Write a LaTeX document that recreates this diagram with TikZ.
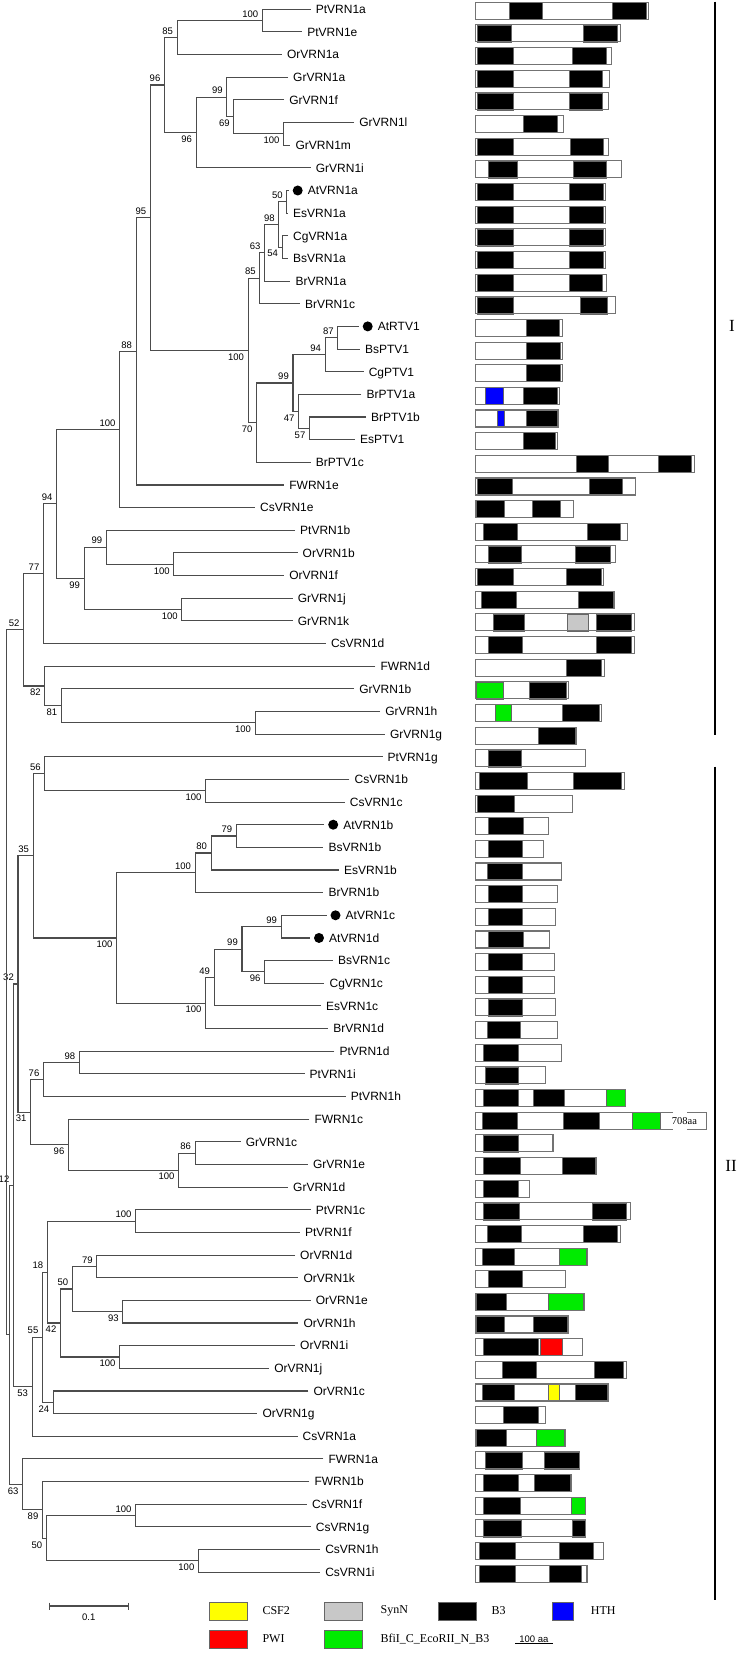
\documentclass[tikz,border=0pt]{standalone}
\usepackage{fontspec}
\setmainfont{Liberation Serif}
\setsansfont{Liberation Sans}
\usetikzlibrary{calc}

\definecolor{B3}{RGB}{0,0,0}
\definecolor{HTH}{RGB}{0,0,255}
\definecolor{PWI}{RGB}{255,0,0}
\definecolor{CSF2}{RGB}{255,255,0}
\definecolor{SynN}{RGB}{200,200,200}
\definecolor{BfiI}{RGB}{0,235,0}

% leaf row -> vertical position
\newcommand\ly[1]{(9.3+22.65*(#1-1))}

% internal node: name, x, upper child, lower child, bootstrap, a/b
\newcommand\clade[6]{%
  \path let \p1=($(#3)!.5!(#4)$) in coordinate (#1) at (#2pt,\y1);
  \draw[branch] (#3) -| (#1) |- (#4);
  \node[boot#6] at (#1) {#5};}

% domains only: row, list of start/end/colour
\newcommand\doms[2]{%
  \foreach \a/\b/\c in {#2}
    \filldraw[dom, fill=\c] (\a,{\ly{#1}-7}) rectangle (\b,{\ly{#1}+10});}
% domain map: row, length (aa), list of start/end/colour
\newcommand\prot[3]{%
  \doms{#1}{#3}
  \draw[pbox] (0,{\ly{#1}-7}) rectangle (#2,{\ly{#1}+10});}

\begin{document}
\begin{tikzpicture}[x=1pt, y=-1pt,
    branch/.style={draw=black!70, line width=1.1pt},
    taxon/.style={anchor=base west, inner sep=0pt, font=\sffamily\fontsize{12}{12}\selectfont},
    boot/.style={inner sep=1pt, font=\sffamily\fontsize{9.5}{9.5}\selectfont},
    boota/.style={boot, anchor=south east, xshift=-3pt, yshift=2pt},
    bootb/.style={boot, anchor=north east, xshift=-3pt, yshift=-2pt},
    atdot/.style={circle, fill=black, inner sep=0pt, minimum size=10pt},
    pbox/.style={draw=black!55, line width=1.1pt},
    dom/.style={draw=black!60, line width=0.5pt},
    key/.style={draw=black!60, line width=0.8pt, minimum width=37.8pt, minimum height=18pt, inner sep=0pt},
    keytext/.style={anchor=west, inner sep=0pt, font=\fontsize{12}{12}\selectfont},
    cladebar/.style={line width=2pt}
]
\useasboundingbox (0,0) rectangle (741,1653);

% leaves
\foreach \i/\nm/\lx in {1/PtVRN1a/315.7, 2/PtVRN1e/307.2, 3/OrVRN1a/286.9, 4/GrVRN1a/293,
    5/GrVRN1f/289.2, 6/GrVRN1l/359.2, 7/GrVRN1m/295.4, 8/GrVRN1i/315.7, 10/EsVRN1a/293,
    11/CgVRN1a/293, 12/BsVRN1a/293, 13/BrVRN1a/295.4, 14/BrVRN1c/304.8, 16/BsPTV1/364.8,
    17/CgPTV1/368.6, 18/BrPTV1a/366.3, 19/BrPTV1b/371, 20/EsPTV1/360, 21/BrPTV1c/315.7,
    22/FWRN1e/289.2, 23/CsVRN1e/260, 24/PtVRN1b/300, 25/OrVRN1b/302.5, 26/OrVRN1f/289.2,
    27/GrVRN1j/297.7, 28/GrVRN1k/297.7, 29/CsVRN1d/330.8, 30/FWRN1d/380.4, 31/GrVRN1b/359.2,
    32/GrVRN1h/385.2, 33/GrVRN1g/389.9, 34/PtVRN1g/387.5, 35/CsVRN1b/354.4, 36/CsVRN1c/349.7,
    38/BsVRN1b/328.4, 39/EsVRN1b/344, 40/BrVRN1b/328.4, 43/BsVRN1c/337.9, 44/CgVRN1c/329.4,
    45/EsVRN1c/326, 46/BrVRN1d/333.2, 47/PtVRN1d/339.3, 48/PtVRN1i/309.5, 49/PtVRN1h/350.7,
    50/FWRN1c/314.3, 51/GrVRN1c/245.7, 52/GrVRN1e/312.9, 53/GrVRN1d/293, 54/PtVRN1c/315.7,
    55/PtVRN1f/304.8, 56/OrVRN1d/300, 57/OrVRN1k/303.4, 58/OrVRN1e/315.7, 59/OrVRN1h/303.4,
    60/OrVRN1i/300, 61/OrVRN1j/274.1, 62/OrVRN1c/313.3, 63/OrVRN1g/262.3, 64/CsVRN1a/302.5,
    65/FWRN1a/328.4, 66/FWRN1b/314.3, 67/CsVRN1f/311.9, 68/CsVRN1g/315.7, 69/CsVRN1h/325.1,
    70/CsVRN1i/325.1}{
  \coordinate (L\i) at ({\lx-5},{\ly{\i}});
  \node[taxon] (t\i) at (\lx,{\ly{\i}+4.3}) {\nm};
}
% Arabidopsis genes, marked with a dot
\foreach \i/\nm/\dx in {9/AtVRN1a/297.7, 15/AtRTV1/367.7, 37/AtVRN1b/333.2,
    41/AtVRN1c/335.5, 42/AtVRN1d/319}{
  \coordinate (L\i) at ({\dx-9},{\ly{\i}});
  \node[atdot] (d\i) at (\dx,{\ly{\i}}) {};
  \node[taxon] (t\i) at ({\dx+10},{\ly{\i}+4.3}) {\nm};
}

% clade I
\clade{n100a}{262.3}{L1}{L2}{100}{a}
\clade{n85a}{177.2}{n100a}{L3}{85}{a}
\clade{n100b}{283.6}{L6}{L7}{100}{b}
\clade{n69}{233.9}{L5}{n100b}{69}{b}
\clade{n99a}{226.8}{L4}{n69}{99}{a}
\clade{n96a}{196.1}{n99a}{L8}{96}{b}
\clade{n96b}{164.5}{n85a}{n96a}{96}{a}
\clade{n50a}{286.9}{L9}{L10}{50}{a}
\clade{n54}{282.1}{L11}{L12}{54}{b}
\clade{n98a}{278.8}{n50a}{n54}{98}{a}
\clade{n63a}{264.7}{n98a}{L13}{63}{a}
\clade{n85b}{259.9}{n63a}{L14}{85}{a}
\clade{n87}{337.9}{L15}{L16}{87}{a}
\clade{n94a}{325.1}{n87}{L17}{94}{a}
\clade{n57}{309.5}{L19}{L20}{57}{b}
\clade{n47}{298.7}{L18}{n57}{47}{b}
\clade{n99b}{293}{n94a}{n47}{99}{a}
\clade{n70}{256.6}{n99b}{L21}{70}{b}
\clade{n100c}{248.1}{n85b}{n70}{100}{b}
\clade{n95}{150.3}{n96b}{n100c}{95}{a}
\clade{n88}{136.1}{n95}{L22}{88}{a}
\clade{n100d}{119.6}{n88}{L23}{100}{a}
\clade{n100e}{173.9}{L25}{L26}{100}{b}
\clade{n99c}{106.3}{L24}{n100e}{99}{a}
\clade{n100f}{181.9}{L27}{L28}{100}{b}
\clade{n99d}{84.1}{n99c}{n100f}{99}{b}
\clade{n94b}{56.7}{n100d}{n99d}{94}{a}
\clade{n77}{43.5}{n94b}{L29}{77}{a}
\clade{n100g}{255.2}{L32}{L33}{100}{b}
\clade{n81}{61.4}{L31}{n100g}{81}{b}
\clade{n82}{44.9}{L30}{n81}{82}{b}
\clade{n52}{23.6}{n77}{n82}{52}{a}

% clade II
\clade{n100h}{205.6}{L35}{L36}{100}{b}
\clade{n56}{44.9}{L34}{n100h}{56}{a}
\clade{n79a}{236.3}{L37}{L38}{79}{a}
\clade{n80}{211.2}{n79a}{L39}{80}{a}
\clade{n100i}{195.2}{n80}{L40}{100}{a}
\clade{n99e}{281.2}{L41}{L42}{99}{a}
\clade{n96c}{264.7}{L43}{L44}{96}{b}
\clade{n99f}{242}{n99e}{n96c}{99}{a}
\clade{n49}{214.1}{n99f}{L45}{49}{a}
\clade{n100j}{205.6}{n49}{L46}{100}{b}
\clade{n100k}{116.7}{n100i}{n100j}{100}{b}
\clade{n35}{33.1}{n56}{n100k}{35}{a}
\clade{n98b}{79.4}{L47}{L48}{98}{a}
\clade{n76}{43.5}{n98b}{L49}{76}{a}
\clade{n86}{195.2}{L51}{L52}{86}{a}
\clade{n100l}{178.6}{n86}{L53}{100}{b}
\clade{n96d}{68.5}{L50}{n100l}{96}{b}
\clade{n31}{30.7}{n76}{n96d}{31}{b}
\clade{n32}{18}{n35}{n31}{32}{a}
\clade{n100m}{135.6}{L54}{L55}{100}{a}
\clade{n79b}{96.9}{L56}{L57}{79}{a}
\clade{n93}{122.9}{L58}{L59}{93}{b}
\clade{n50b}{72.3}{n79b}{n93}{50}{a}
\clade{n100n}{119.6}{L60}{L61}{100}{b}
\clade{n42}{60.5}{n50b}{n100n}{42}{b}
\clade{n18}{47.3}{n100m}{n42}{18}{a}
\clade{n24}{53.4}{L62}{L63}{24}{b}
\clade{n55}{42.5}{n18}{n24}{55}{a}
\clade{n53}{32.1}{n55}{L64}{53}{b}
\clade{n12}{13.5}{n32}{n53}{12}{a}
\clade{n100o}{135.6}{L67}{L68}{100}{a}
\clade{n100p}{198.5}{L69}{L70}{100}{b}
\clade{n50c}{46.3}{n100o}{n100p}{50}{b}
\clade{n89}{42.5}{L66}{n50c}{89}{b}
\clade{n63b}{22.7}{L65}{n89}{63}{b}
\clade{n2}{9.5}{n12}{n63b}{}{a}
\clade{root}{6.6}{n52}{n2}{}{a}

% domain maps, in aa
\begin{scope}[shift={(475.9,0)}, x=0.378pt]
\prot{1}{456}{88/175/B3, 360/451/B3}
\prot{2}{383}{4/94/B3, 283/373/B3}
\prot{3}{358}{4/100/B3, 256/344/B3}
\prot{4}{353}{4/98/B3, 248/333/B3}
\prot{5}{350}{4/98/B3, 248/335/B3}
\prot{6}{231}{126/214/B3}
\prot{7}{351}{4/98/B3, 250/338/B3}
\prot{8}{386}{33/110/B3, 258/344/B3}
\prot{9}{344}{4/98/B3, 248/336/B3}
\prot{10}{344}{4/98/B3, 248/336/B3}
\prot{11}{344}{4/100/B3, 248/336/B3}
\prot{12}{344}{4/98/B3, 248/336/B3}
\prot{13}{345}{4/98/B3, 248/335/B3}
\prot{14}{370}{4/98/B3, 275/348/B3}
\prot{15}{229}{133/220/B3}
\prot{16}{229}{133/223/B3}
\prot{17}{229}{133/223/B3}
\prot{18}{220}{25/73/HTH, 125/214/B3}
\prot{19}{219}{56/76/HTH, 133/216/B3}
\prot{20}{216}{125/211/B3}
\prot{21}{579}{266/350/B3, 483/570/B3}
\prot{22}{423}{4/95/B3, 300/388/B3}
\prot{23}{258}{0/76/B3, 148/223/B3}
\prot{24}{400}{20/110/B3, 294/383/B3}
\prot{25}{369}{33/120/B3, 264/356/B3}
\prot{26}{338}{4/100/B3, 238/331/B3}
\prot{27}{366}{14/108/B3, 270/364/B3}
\prot{28}{419}{45/129/B3, 241/298/SynN, 319/410/B3}
\prot{29}{419}{33/123/B3, 319/410/B3}
\prot{30}{339}{239/331/B3}
\prot{31}{245}{0/73/BfiI, 141/238/B3}
\prot{32}{333}{50/94/BfiI, 229/325/B3}
\prot{33}{266}{166/263/B3}
\prot{34}{291}{33/120/B3}
\prot{35}{394}{8/135/B3, 258/385/B3}
\prot{36}{256}{4/101/B3}
\prot{37}{191}{33/125/B3}
\prot{38}{179}{33/123/B3}
\prot{39}{226}{29/123/B3}
\prot{40}{216}{33/123/B3}
\prot{41}{210}{33/123/B3}
\prot{42}{195}{33/126/B3}
\prot{43}{208}{33/123/B3}
\prot{44}{208}{33/123/B3}
\prot{45}{210}{33/123/B3}
\prot{46}{216}{29/116/B3}
\prot{47}{226}{20/113/B3}
\prot{48}{185}{26/113/B3}
\prot{49}{395}{20/113/B3, 151/233/B3, 345/395/BfiI}
% FWRN1c is drawn cut short
\doms{50}{16/110/B3, 231/326/B3, 413/488/BfiI}
\draw[pbox] (522,{\ly{50}-7}) -- (0,{\ly{50}-7}) -- (0,{\ly{50}+10}) -- (522,{\ly{50}+10});
\node[anchor=west, inner sep=0pt, font=\fontsize{10.5}{10.5}\selectfont] (len708) at (518,{\ly{50}+1.5}) {708aa};
\draw[pbox] (559,{\ly{50}-7}) -- (610.6,{\ly{50}-7}) -- (610.6,{\ly{50}+10}) -- (559,{\ly{50}+10});
\prot{51}{204}{20/113/B3}
\prot{52}{319}{20/116/B3, 229/316/B3}
\prot{53}{141}{20/113/B3}
\prot{54}{408}{20/114/B3, 308/398/B3}
\prot{55}{383}{29/120/B3, 283/373/B3}
\prot{56}{295}{16/101/B3, 220/291/BfiI}
\prot{57}{238}{33/123/B3}
\prot{58}{288}{0/79/B3, 191/283/BfiI}
\prot{59}{245}{0/75/B3, 151/241/B3}
\prot{60}{283}{20/164/B3, 170/229/PWI}
\prot{61}{398}{70/160/B3, 313/389/B3}
\prot{62}{350}{16/101/B3, 191/220/CSF2, 263/348/B3}
\prot{63}{185}{73/164/B3}
\prot{64}{238}{0/79/B3, 160/235/BfiI}
\prot{65}{275}{26/123/B3, 181/273/B3}
\prot{66}{254}{20/113/B3, 154/250/B3}
\prot{67}{291}{19/116/B3, 251/289/BfiI}
\prot{68}{291}{19/119/B3, 254/289/B3}
\prot{69}{338}{8/104/B3, 220/310/B3}
\prot{70}{294}{8/104/B3, 195/279/B3}
\end{scope}

% groups
\draw[cladebar] (714.6,1.7) -- (714.6,735);
\node[font=\fontsize{17}{17}\selectfont] (grI) at (732,326) {I};
\draw[cladebar] (714.6,766.7) -- (714.6,1600);
\node[font=\fontsize{17}{17}\selectfont] (grII) at (731,1166) {II};

% scale bar
\coordinate (sbL) at (49.6,1606);
\coordinate (sbR) at (128.5,1606);
\draw[branch] (sbL) -- (sbR);
\draw[branch] ($(sbL)+(0,-3.5)$) -- ($(sbL)+(0,3.5)$);
\draw[branch] ($(sbR)+(0,-3.5)$) -- ($(sbR)+(0,3.5)$);
\node[boot] (sbT) at (88.8,1617) {0.1};

% legend
\node[key, fill=CSF2] (kCSF) at (228.3,1611) {};
\node[keytext] (lCSF) at (262.3,1611) {CSF2};
\node[key, fill=SynN] (kSyn) at (343.3,1611) {};
\node[keytext] (lSyn) at (380.4,1611) {SynN};
\node[key, fill=B3] (kB3) at (457.5,1611) {};
\node[keytext] (lB3) at (491.5,1611) {B3};
\node[key, fill=HTH, minimum width=21.3pt] (kHTH) at (562.6,1611) {};
\node[keytext] (lHTH) at (590.7,1611) {HTH};
\node[key, fill=PWI] (kPWI) at (228.3,1639) {};
\node[keytext] (lPWI) at (262.3,1639) {PWI};
\node[key, fill=BfiI] (kBfi) at (343.3,1639) {};
\node[keytext] (lBfi) at (380.4,1639) {BfiI\_C\_EcoRII\_N\_B3};
\coordinate (aaL) at (515,1643.5);
\coordinate (aaR) at (552.8,1643.5);
\draw[line width=0.8pt] (aaL) -- (aaR);
\node[boot, anchor=south] (aaT) at ($(aaL)!.5!(aaR)$) {100 aa};
\end{tikzpicture}
\end{document}
